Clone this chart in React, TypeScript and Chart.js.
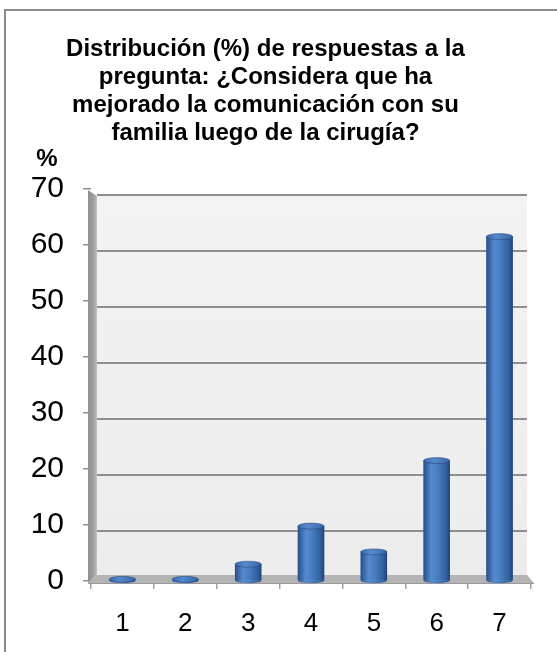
import React, { useEffect, useRef } from "react";
import { Chart, registerables } from "chart.js";

Chart.register(...registerables);

const categories = ["1", "2", "3", "4", "5", "6", "7"];
const percentages = [0.3, 0.3, 3.0, 9.8, 5.2, 21.5, 61.5];
const yMin = 0;
const yMax = 70;
const yStep = 10;
const titleLines = [
  "Distribución (%) de respuestas a la",
  "pregunta: ¿Considera que ha",
  "mejorado la comunicación con su",
  "familia luego de la cirugía?",
];
const yAxisLabel = "%";

const FONT = "'Liberation Sans', Arial, sans-serif";

const wallPlugin = {
  id: "wall3d",
  beforeDraw(chart: any) {
    const { ctx, chartArea } = chart;
    const { left, right, top, bottom } = chartArea;
    ctx.save();
    const g = ctx.createLinearGradient(0, top, 0, bottom);
    g.addColorStop(0, "#f3f3f3");
    g.addColorStop(1, "#ececec");
    ctx.fillStyle = g;
    ctx.fillRect(left + 6, top + 6, right - 4 - (left + 6), bottom - 6 - (top + 6));
    ctx.restore();
  },
  beforeDatasetsDraw(chart: any) {
    const { ctx, chartArea, scales } = chart;
    const { left, right, top, bottom } = chartArea;
    const y = scales.y;
    ctx.save();
    ctx.strokeStyle = "#8e8e8e";
    ctx.lineWidth = 2;
    y.ticks.forEach((t: any) => {
      if (t.value === 0) return;
      const py = Math.round(y.getPixelForValue(t.value) + 6);
      ctx.beginPath();
      ctx.moveTo(left + 6, py);
      ctx.lineTo(right - 4, py);
      ctx.stroke();
    });
    const wg = ctx.createLinearGradient(left - 3, 0, left + 6, 0);
    wg.addColorStop(0, "#8f8f8f");
    wg.addColorStop(0.7, "#a3a3a3");
    wg.addColorStop(1, "#c4c4c4");
    ctx.fillStyle = wg;
    ctx.beginPath();
    ctx.moveTo(left - 3, top + 1);
    ctx.lineTo(left + 6, top + 7);
    ctx.lineTo(left + 6, bottom - 6);
    ctx.lineTo(left - 3, bottom + 2);
    ctx.closePath();
    ctx.fill();
    ctx.fillStyle = "#b4b4b4";
    ctx.beginPath();
    ctx.moveTo(left - 3, bottom + 2);
    ctx.lineTo(left + 6, bottom - 6);
    ctx.lineTo(right - 4, bottom - 6);
    ctx.lineTo(right + 3, bottom + 2);
    ctx.closePath();
    ctx.fill();
    ctx.strokeStyle = "#9a9a9a";
    ctx.lineWidth = 1;
    ctx.beginPath();
    ctx.moveTo(left - 3, bottom + 2.5);
    ctx.lineTo(right + 3, bottom + 2.5);
    ctx.stroke();
    ctx.restore();
  },
  afterDatasetsDraw(chart: any) {
    const { ctx } = chart;
    const meta = chart.getDatasetMeta(0);
    ctx.save();
    meta.data.forEach((bar: any) => {
      const { x, y, base, width } = bar.getProps(["x", "y", "base", "width"], true);
      const l = x - width / 2;
      const r = x + width / 2;
      const ry = 3;
      const g = ctx.createLinearGradient(l, 0, r, 0);
      g.addColorStop(0, "#264f88");
      g.addColorStop(0.3, "#5689d0");
      g.addColorStop(0.5, "#4b80c4");
      g.addColorStop(0.85, "#30609f");
      g.addColorStop(1, "#204374");
      ctx.fillStyle = g;
      ctx.fillRect(l, y, width, base - y);
      ctx.beginPath();
      ctx.ellipse(x, base, width / 2, ry, 0, 0, Math.PI);
      ctx.fill();
      const tg = ctx.createLinearGradient(l, 0, r, 0);
      tg.addColorStop(0, "#386bad");
      tg.addColorStop(0.4, "#5789cc");
      tg.addColorStop(1, "#3766a4");
      ctx.fillStyle = tg;
      ctx.beginPath();
      ctx.ellipse(x, y, width / 2, ry, 0, 0, Math.PI * 2);
      ctx.fill();
      ctx.strokeStyle = "rgba(30,60,110,0.6)";
      ctx.lineWidth = 0.8;
      ctx.stroke();
    });
    ctx.restore();
  },
  afterDraw(chart: any) {
    const { ctx } = chart;
    ctx.save();
    ctx.font = `bold 24px ${FONT}`;
    ctx.fillStyle = "#000";
    ctx.textAlign = "center";
    ctx.textBaseline = "middle";
    ctx.fillText(yAxisLabel, 47, 159);
    ctx.restore();
  },
};

export default function App() {
  const canvasRef = useRef<HTMLCanvasElement | null>(null);

  useEffect(() => {
    if (!canvasRef.current) return;
    const chart = new Chart(canvasRef.current, {
      type: "bar",
      data: {
        labels: categories,
        datasets: [
          {
            data: percentages,
            backgroundColor: "#4a7ebb",
            borderWidth: 0,
            barPercentage: 0.42,
            categoryPercentage: 1,
          },
        ],
      },
      options: {
        responsive: false,
        animation: false,
        devicePixelRatio: 1,
        layout: { padding: { left: 0, right: 26, top: 0, bottom: 0 } },
        plugins: {
          legend: { display: false },
          tooltip: { enabled: false },
          title: {
            display: true,
            text: titleLines,
            color: "#000",
            font: { family: FONT, size: 24, weight: "bold", lineHeight: 28 / 24 },
            padding: { top: 35, bottom: 42 },
          },
        },
        scales: {
          x: {
            afterFit: (s: any) => {
              s.height = 71;
            },
            border: { display: false },
            grid: {
              display: true,
              offset: true,
              drawOnChartArea: false,
              drawTicks: true,
              tickLength: 8,
              color: "#a0a0a0",
              lineWidth: 1.5,
            },
            ticks: {
              color: "#000",
              font: { family: FONT, size: 26 },
              padding: 19,
            },
          },
          y: {
            min: yMin,
            max: yMax,
            afterFit: (s: any) => {
              s.width = 91;
            },
            border: { display: false },
            grid: {
              drawOnChartArea: false,
              drawTicks: true,
              tickLength: 8,
              color: "#8e8e8e",
              lineWidth: 1.5,
            },
            ticks: {
              stepSize: yStep,
              color: "#000",
              font: { family: FONT, size: 30 },
              padding: 19,
            },
          },
        },
      },
      plugins: [wallPlugin],
    });
    return () => chart.destroy();
  }, []);

  return (
    <div
      style={{
        position: "fixed",
        left: 0,
        top: 0,
        width: 557,
        height: 652,
        background: "#fff",
        overflow: "hidden",
      }}
    >
      <canvas ref={canvasRef} width={557} height={652} style={{ display: "block" }} />
      <div
        style={{
          position: "absolute",
          left: 4,
          top: 9,
          width: 600,
          height: 700,
          borderLeft: "2px solid #8c8c8c",
          borderTop: "2px solid #8c8c8c",
          pointerEvents: "none",
        }}
      />
    </div>
  );
}
